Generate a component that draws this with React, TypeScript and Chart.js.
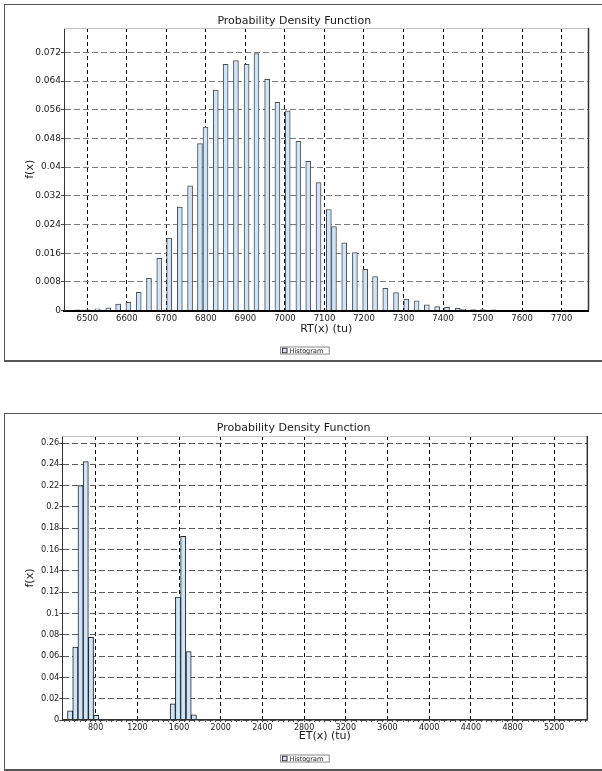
import React, { useEffect, useRef } from 'react';
import { Chart, registerables } from 'chart.js';

Chart.register(...registerables);

// ---------- data ----------
const RT_BINS = [
  6475, 6501, 6526, 6553, 6578, 6604, 6630, 6656, 6682, 6707, 6734, 6760, 6785, 6799,
  6825, 6850, 6876, 6903, 6928, 6955, 6981, 7007, 7034, 7059, 7085, 7111, 7124, 7150,
  7177, 7203, 7228, 7254, 7281, 7307, 7333, 7359, 7385, 7410, 7437, 7451, 7476, 7501,
  7527, 7552,
];
const RT_DENSITY = [
  0.0002, 0.0002, 0.0005, 0.0008, 0.0018, 0.0023, 0.0051, 0.009, 0.0146, 0.0202, 0.0289,
  0.0348, 0.0466, 0.0512, 0.0615, 0.0687, 0.0697, 0.0687, 0.0717, 0.0645, 0.0581, 0.0557,
  0.0472, 0.0416, 0.0357, 0.0282, 0.0234, 0.0189, 0.0162, 0.0115, 0.0095, 0.0062, 0.005,
  0.0032, 0.0027, 0.0016, 0.0011, 0.0009, 0.0006, 0.0004, 0.0003, 0.0003, 0.0002, 0.0001,
];
const ET_BINS = [555, 605, 655, 705, 755, 805, 1540, 1590, 1640, 1692, 1742];
const ET_DENSITY = [0.0087, 0.0686, 0.22, 0.2427, 0.0777, 0.0044, 0.0153, 0.1154, 0.1725, 0.0643, 0.005];

const RT_X_TICKS = [6500, 6600, 6700, 6800, 6900, 7000, 7100, 7200, 7300, 7400, 7500, 7600, 7700];
const RT_Y_TICKS = [0, 0.008, 0.016, 0.024, 0.032, 0.04, 0.048, 0.056, 0.064, 0.072];
const ET_X_TICKS = [800, 1200, 1600, 2000, 2400, 2800, 3200, 3600, 4000, 4400, 4800, 5200];
const ET_Y_TICKS = [0, 0.02, 0.04, 0.06, 0.08, 0.1, 0.12, 0.14, 0.16, 0.18, 0.2, 0.22, 0.24, 0.26];

const TITLE = 'Probability Density Function';
const SERIES_LABEL = 'Histogram';

// ---------- style ----------
const FONT = "'DejaVu Sans', Verdana, sans-serif";
const BAR_FILL = '#cde4fa';

const boxLegend = {
  id: 'boxLegend',
  afterDraw(chart: any, _args: any, opts: any) {
    const ctx = chart.ctx as CanvasRenderingContext2D;
    const ds = chart.data.datasets[0];
    ctx.save();
    ctx.font = `${opts.size}px ${FONT}`;
    const tw = ctx.measureText(ds.label).width;
    const w = 9 + tw + 6;
    const { x, y, h } = opts;
    ctx.fillStyle = '#fff';
    ctx.fillRect(x, y, w, h);
    ctx.strokeStyle = '#8a8a8a';
    ctx.lineWidth = 1;
    ctx.strokeRect(x + 0.5, y + 0.5, w, h);
    const m = 4.5;
    const my = y + (h - m) / 2 + 0.5;
    ctx.fillStyle = ds.backgroundColor;
    ctx.fillRect(x + 2.5, my, m, m);
    ctx.strokeStyle = '#333';
    ctx.strokeRect(x + 2.5, my, m, m);
    ctx.fillStyle = '#222';
    ctx.textBaseline = 'middle';
    ctx.textAlign = 'left';
    ctx.fillText(ds.label, x + 9.5, y + h / 2 + 1);
    ctx.restore();
  },
};

const plotFrame = {
  id: 'plotFrame',
  afterDraw(chart: any, _args: any, opts: any) {
    const ctx = chart.ctx as CanvasRenderingContext2D;
    const { left, right, top, bottom } = chart.chartArea;
    ctx.save();
    ctx.strokeStyle = opts.topColor;
    ctx.lineWidth = 1;
    ctx.beginPath();
    ctx.moveTo(left, Math.round(top) + 0.5);
    ctx.lineTo(right, Math.round(top) + 0.5);
    ctx.stroke();
    ctx.strokeStyle = opts.rightColor;
    ctx.lineWidth = opts.rightWidth;
    ctx.beginPath();
    ctx.moveTo(right, top);
    ctx.lineTo(right, bottom);
    ctx.stroke();
    ctx.restore();
  },
};

interface PanelSpec {
  bins: number[];
  density: number[];
  xTicks: number[];
  yTicks: number[];
  minorStep: number | null;
  xMin: number;
  xMax: number;
  yMax: number;
  xTitle: string;
  barThickness: number;
  barBorder: string;
  yGridColor: string;
  xBorderWidth: number;
  xBorderColor: string;
  height: number;
  padRight: number;
  padBottom: number;
  yAxisWidth: number;
  xAxisHeight: number;
  titlePadTop: number;
  titlePadBottom: number;
  xTickFont: number;
  yTickFont: number;
  xTickPad: number;
  xTickLen: number;
}

function buildConfig(p: PanelSpec): any {
  const labelled = new Set(p.xTicks);
  const xTickValues: number[] = [];
  if (p.minorStep) {
    const start = Math.ceil(p.xMin / p.minorStep) * p.minorStep;
    for (let v = start; v <= p.xMax; v += p.minorStep) xTickValues.push(v);
  } else {
    xTickValues.push(...p.xTicks);
  }
  return {
    type: 'bar',
    data: {
      datasets: [
        {
          label: SERIES_LABEL,
          data: p.bins.map((x, i) => ({ x, y: p.density[i] })),
          backgroundColor: BAR_FILL,
          borderColor: p.barBorder,
          borderWidth: 1,
          borderSkipped: 'start',
          barThickness: p.barThickness,
        },
      ],
    },
    plugins: [boxLegend, plotFrame],
    options: {
      animation: false,
      responsive: false,
      devicePixelRatio: 1,
      layout: { padding: { left: 0, top: 0, right: p.padRight, bottom: p.padBottom } },
      plugins: {
        legend: { display: false },
        tooltip: { enabled: false },
        title: {
          display: true,
          text: TITLE,
          color: '#1a1a1a',
          font: { family: FONT, size: 11, weight: 'normal', lineHeight: 1.2 },
          padding: { top: p.titlePadTop, bottom: p.titlePadBottom },
        },
        boxLegend: { x: 280, y: 346.5, h: 7, size: 6.5 },
        plotFrame: { topColor: '#c4c4c4', rightColor: '#333', rightWidth: 1.5 },
      },
      scales: {
        x: {
          type: 'linear',
          min: p.xMin,
          max: p.xMax,
          offset: false,
          afterBuildTicks: (s: any) => {
            s.ticks = xTickValues.map((v) => ({ value: v }));
          },
          afterFit: (s: any) => {
            s.height = p.xAxisHeight;
          },
          grid: {
            offset: false,
            lineWidth: 1,
            color: (c: any) => (c.tick && labelled.has(c.tick.value) ? '#000' : 'rgba(0,0,0,0)'),
            drawTicks: p.xTickLen > 0,
            tickLength: p.xTickLen,
            tickColor: '#444',
          },
          border: { display: true, color: p.xBorderColor, width: p.xBorderWidth, dash: [4, 3], z: 1 },
          ticks: {
            autoSkip: false,
            maxRotation: 0,
            minRotation: 0,
            padding: p.xTickPad,
            color: '#222',
            font: { family: FONT, size: p.xTickFont, lineHeight: 1.2 },
            callback: (v: number) => (labelled.has(v) ? String(v) : ''),
          },
          title: {
            display: true,
            text: p.xTitle,
            color: '#1a1a1a',
            font: { family: FONT, size: 11, lineHeight: 1.2 },
            padding: { top: 0, bottom: 0 },
          },
        },
        y: {
          type: 'linear',
          min: 0,
          max: p.yMax,
          afterBuildTicks: (s: any) => {
            s.ticks = p.yTicks.map((v) => ({ value: v }));
          },
          afterFit: (s: any) => {
            s.width = p.yAxisWidth;
          },
          grid: { color: p.yGridColor, lineWidth: 1, tickLength: 3, tickColor: '#444' },
          border: { display: true, color: '#333', width: 1, dash: [6, 3], z: 1 },
          ticks: {
            padding: 0,
            color: '#222',
            font: { family: FONT, size: p.yTickFont, lineHeight: 1.2 },
            callback: (v: number) => String(v),
          },
          title: {
            display: true,
            text: 'f(x)',
            color: '#1a1a1a',
            font: { family: FONT, size: 11, lineHeight: 1.2 },
            padding: { top: 23.9, bottom: 0 },
          },
        },
      },
    },
  };
}

const TOP_SPEC: PanelSpec = {
  bins: RT_BINS,
  density: RT_DENSITY,
  xTicks: RT_X_TICKS,
  yTicks: RT_Y_TICKS,
  minorStep: null,
  xMin: 6441,
  xMax: 7768,
  yMax: 0.0788,
  xTitle: 'RT(x) (tu)',
  barThickness: 5,
  barBorder: '#4d4d4d',
  yGridColor: '#7a7a7a',
  xBorderWidth: 2,
  xBorderColor: '#000',
  height: 362,
  padRight: 13.5,
  padBottom: 26.4,
  yAxisWidth: 64,
  xAxisHeight: 25,
  titlePadTop: 14.4,
  titlePadBottom: 0.4,
  xTickFont: 8.5,
  yTickFont: 9,
  xTickPad: 3.3,
  xTickLen: 0,
};

const BOTTOM_SPEC: PanelSpec = {
  bins: ET_BINS,
  density: ET_DENSITY,
  xTicks: ET_X_TICKS,
  yTicks: ET_Y_TICKS,
  minorStep: 50,
  xMin: 480,
  xMax: 5517,
  yMax: 0.2666,
  xTitle: 'ET(x) (tu)',
  barThickness: 5.2,
  barBorder: '#222',
  yGridColor: '#5a5a5a',
  xBorderWidth: 1.5,
  xBorderColor: '#333',
  height: 363,
  padRight: 14.7,
  padBottom: 28.4,
  yAxisWidth: 62.3,
  xAxisHeight: 22.5,
  titlePadTop: 13.9,
  titlePadBottom: 0.9,
  xTickFont: 8,
  yTickFont: 8.2,
  xTickPad: 1.2,
  xTickLen: 2,
};

function ChartCanvas({ spec, top }: { spec: PanelSpec; top: number }) {
  const ref = useRef<HTMLCanvasElement | null>(null);
  useEffect(() => {
    if (!ref.current) return;
    const chart = new Chart(ref.current, buildConfig(spec));
    return () => chart.destroy();
  }, [spec]);
  return (
    <canvas
      ref={ref}
      width={602}
      height={spec.height}
      style={{ position: 'absolute', left: 0, top, width: 602, height: spec.height }}
    />
  );
}

const panelBorder = (top: number): React.CSSProperties => ({
  position: 'absolute',
  left: 4,
  top,
  width: 640,
  height: 358,
  boxSizing: 'border-box',
  borderTop: '1px solid #555',
  borderLeft: '1px solid #555',
  borderBottom: '2px solid #555',
});

export default function App() {
  return (
    <div
      style={{
        position: 'absolute',
        left: 0,
        top: 0,
        width: 602,
        height: 771,
        overflow: 'hidden',
        background: '#fff',
      }}
    >
      <div style={panelBorder(4)} />
      <div style={panelBorder(413)} />
      <ChartCanvas spec={TOP_SPEC} top={0} />
      <ChartCanvas spec={BOTTOM_SPEC} top={408} />
    </div>
  );
}
